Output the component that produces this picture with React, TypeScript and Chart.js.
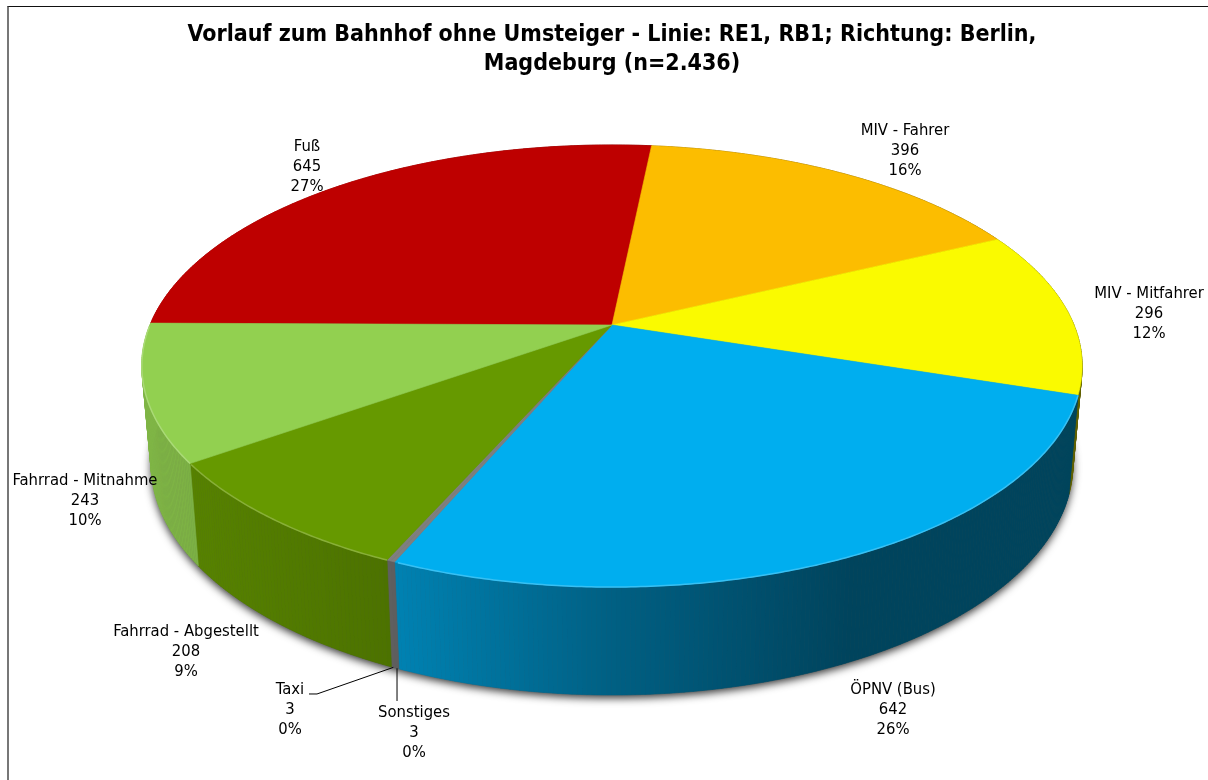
import React, { useEffect, useRef } from "react";
import { Chart, registerables } from "chart.js";

Chart.register(...registerables);

const categories = ["Fuß", "MIV - Fahrer", "MIV - Mitfahrer", "ÖPNV (Bus)", "Sonstiges", "Taxi", "Fahrrad - Abgestellt", "Fahrrad - Mitnahme"];
const counts = [645, 396, 296, 642, 3, 3, 208, 243];
const percentLabels = ["27%", "16%", "12%", "26%", "0%", "0%", "9%", "10%"];
const sliceColors = ["#BE0000", "#FCBD00", "#FAFA00", "#00AEEF", "#7F7F7F", "#7F7F7F", "#669900", "#92D050"];
const titleLines = ["Vorlauf zum Bahnhof ohne Umsteiger - Linie: RE1, RB1; Richtung: Berlin,", "Magdeburg (n=2.436)"];

// label centres relative to the pie's apex (x, first text line)
const labelOffsets = [[-305, -178], [293, -194], [537, -31], [281, 365], [-198, 388], [-322, 365], [-426, 307], [-527, 156]];

const FONT = '"DejaVu Sans Condensed", "DejaVu Sans"';
const A_TOP = 1.878, B_TOP = 0.8675, A_BOT = 1.841, B_BOT = 0.9056, DROP = 0.3922, PERSP = 0.1855;

function hexRgb(h: string) {
  return [1, 3, 5].map((i) => parseInt(h.slice(i, i + 2), 16));
}
const shadeStops = [[150, 0.87], [400, 0.74], [612, 0.55], [850, 0.39], [1100, 0.39]];
function shadeAt(x: number) {
  for (let i = 1; i < shadeStops.length; i++) {
    const [x0, f0] = shadeStops[i - 1], [x1, f1] = shadeStops[i];
    if (x <= x1) return f0 + ((f1 - f0) * Math.max(0, x - x0)) / (x1 - x0);
  }
  return 0.39;
}

const pie3d = {
  id: "pie3d",
  beforeDatasetsDraw(chart: any) {
    const ctx = chart.ctx;
    const arcs = chart.getDatasetMeta(0).data;
    const { x: cx, y: cy, outerRadius: r } = arcs[0].getProps(["x", "y", "outerRadius"], true);
    const top = (a: number) => {
      const d = 1 - PERSP * Math.sin(a);
      return [cx + (A_TOP * r * Math.cos(a)) / d, cy + (B_TOP * r * Math.sin(a)) / d];
    };
    const bot = (a: number) => {
      const d = 1 - PERSP * Math.sin(a);
      return [cx + (A_BOT * r * Math.cos(a)) / d, cy + DROP * r + (B_BOT * r * Math.sin(a)) / d];
    };
    const STEP = Math.PI / 360;

    ctx.save();
    // soft shadow beneath the body
    ctx.save();
    ctx.shadowColor = "rgba(0,0,0,0.8)";
    ctx.shadowBlur = 9;
    ctx.shadowOffsetY = 3;
    ctx.fillStyle = "#555";
    ctx.beginPath();
    for (let a = 0; a < Math.PI * 2; a += STEP) {
      const p = bot(a);
      ctx.lineTo(p[0], p[1]);
    }
    ctx.closePath();
    ctx.fill();
    ctx.restore();

    // side wall
    arcs.forEach((arc: any, i: number) => {
      const { startAngle, endAngle } = arc.getProps(["startAngle", "endAngle"], true);
      const rgb = hexRgb(sliceColors[i]);
      for (let a = startAngle; a < endAngle; a += STEP) {
        const b = Math.min(a + STEP, endAngle);
        const p1 = top(a), p2 = top(b), q2 = bot(b), q1 = bot(a);
        const f = shadeAt((p1[0] + p2[0]) / 2 + 8);
        const col = `rgb(${rgb.map((v) => Math.round(v * f)).join(",")})`;
        ctx.fillStyle = col;
        ctx.strokeStyle = col;
        ctx.lineWidth = 0.6;
        ctx.beginPath();
        ctx.moveTo(p1[0], p1[1]);
        ctx.lineTo(p2[0], p2[1]);
        ctx.lineTo(q2[0], q2[1]);
        ctx.lineTo(q1[0], q1[1]);
        ctx.closePath();
        ctx.fill();
        ctx.stroke();
      }
    });

    // top face
    arcs.forEach((arc: any, i: number) => {
      const { startAngle, endAngle } = arc.getProps(["startAngle", "endAngle"], true);
      ctx.fillStyle = sliceColors[i];
      ctx.strokeStyle = sliceColors[i];
      ctx.lineWidth = 0.6;
      ctx.beginPath();
      ctx.moveTo(cx, cy);
      for (let a = startAngle; a < endAngle; a += STEP) {
        const p = top(a);
        ctx.lineTo(p[0], p[1]);
      }
      const e = top(endAngle);
      ctx.lineTo(e[0], e[1]);
      ctx.closePath();
      ctx.fill();
      ctx.stroke();
    });

    // bright bevel along the front rim
    arcs.forEach((arc: any, i: number) => {
      const { startAngle, endAngle } = arc.getProps(["startAngle", "endAngle"], true);
      const rgb = hexRgb(sliceColors[i]);
      ctx.strokeStyle = `rgb(${rgb.map((v) => Math.round(v + (255 - v) * 0.22)).join(",")})`;
      ctx.lineWidth = 1.5;
      ctx.beginPath();
      let open = false;
      for (let a = startAngle; a <= endAngle; a += STEP) {
        if (Math.sin(a) < 0.3 && Math.cos(a) > 0) continue;
        if (Math.sin(a) < 0) continue;
        const p = top(a);
        if (open) ctx.lineTo(p[0], p[1]);
        else ctx.moveTo(p[0], p[1]);
        open = true;
      }
      ctx.stroke();
    });
    ctx.restore();
    return false;
  },
  afterDraw(chart: any) {
    const ctx = chart.ctx;
    const arcs = chart.getDatasetMeta(0).data;
    const { x: cx, y: cy, outerRadius: r } = arcs[0].getProps(["x", "y", "outerRadius"], true);
    const bot = (a: number) => {
      const d = 1 - PERSP * Math.sin(a);
      return [cx + (A_BOT * r * Math.cos(a)) / d, cy + DROP * r + (B_BOT * r * Math.sin(a)) / d];
    };
    ctx.save();
    // leader lines for the two tiny slices
    ctx.strokeStyle = "#000";
    ctx.lineWidth = 1;
    const mid = (i: number) => {
      const { startAngle, endAngle } = arcs[i].getProps(["startAngle", "endAngle"], true);
      return bot((startAngle + endAngle) / 2);
    };
    const s = mid(4);
    ctx.beginPath();
    ctx.moveTo(s[0], s[1]);
    ctx.lineTo(s[0], cy + labelOffsets[4][1] - 12);
    ctx.stroke();
    const t = mid(5);
    ctx.beginPath();
    ctx.moveTo(t[0], t[1]);
    ctx.lineTo(cx + labelOffsets[5][0] + 27, cy + labelOffsets[5][1] + 4);
    ctx.lineTo(cx + labelOffsets[5][0] + 19, cy + labelOffsets[5][1] + 4);
    ctx.stroke();

    ctx.fillStyle = "#000";
    ctx.textAlign = "center";
    ctx.textBaseline = "middle";
    ctx.font = `16.5px ${FONT}`;
    categories.forEach((name, i) => {
      const lx = cx + labelOffsets[i][0];
      const ly = cy + labelOffsets[i][1];
      ctx.fillText(name, lx, ly);
      ctx.fillText(String(counts[i]), lx, ly + 20);
      ctx.fillText(percentLabels[i], lx, ly + 40);
    });
    ctx.restore();
  },
};

export default function App() {
  const ref = useRef<HTMLCanvasElement>(null);
  useEffect(() => {
    const chart = new Chart(ref.current!, {
      type: "pie",
      data: {
        labels: categories,
        datasets: [{ data: counts, backgroundColor: sliceColors, borderWidth: 0 }],
      },
      options: {
        animation: false,
        responsive: false,
        events: [],
        rotation: -89.5,
        layout: { padding: { bottom: 209 } },
        plugins: {
          legend: { display: false },
          tooltip: { enabled: false },
          title: {
            display: true,
            text: titleLines,
            color: "#000",
            font: { family: FONT, size: 23, weight: "bold", lineHeight: 1.26 },
            padding: { top: 21, bottom: 0 },
          },
        },
      },
      plugins: [pie3d],
    } as any);
    return () => chart.destroy();
  }, []);
  return (
    <div style={{ position: "fixed", inset: 0, overflow: "hidden", background: "#fff" }}>
      <div style={{ position: "absolute", left: 7, top: 6, width: 1300, height: 900, borderLeft: "2px solid #777", borderTop: "1px solid #111" }} />
      <canvas ref={ref} width={1208} height={780} style={{ position: "absolute", left: 8, top: 0, width: 1208, height: 780 }} />
    </div>
  );
}
